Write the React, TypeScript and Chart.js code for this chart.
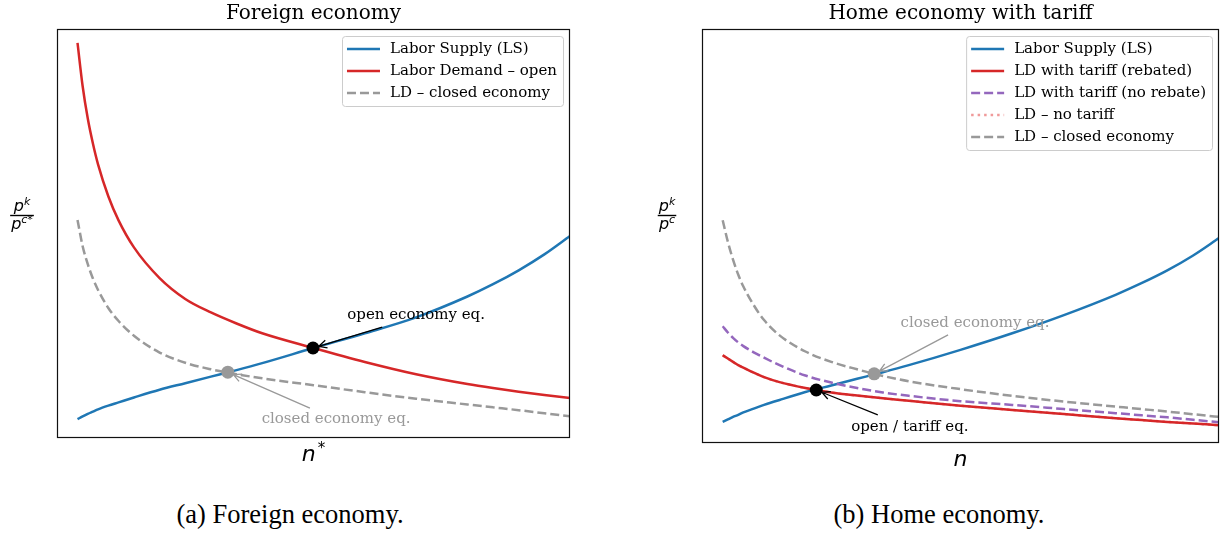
import React, { useEffect, useRef } from "react";
import { Chart, registerables } from "chart.js";

Chart.register(...registerables);

const BLUE = "#1f77b4";
const RED = "#d62728";
const PURPLE = "#9467bd";
const PINK = "#f09a9a";
const GRAY = "#999999";

// Labour quantity grid shared by every curve
const nGrid = [0.4, 0.5, 0.6, 0.7, 0.8, 1.0, 1.2, 1.5, 2.0, 2.5, 3.0, 3.5, 4.0, 5.0, 6.0, 7.0, 8.0, 8.5, 9.0, 9.5, 10.0];

// Foreign economy
const foreignLS = [0.46, 0.53, 0.59, 0.645, 0.7, 0.79, 0.87, 0.99, 1.18, 1.34, 1.5, 1.66, 1.83, 2.2, 2.56, 2.95, 3.46, 3.76, 4.1, 4.49, 4.94];
const foreignLDOpen = [9.66, 8.6, 7.81, 7.2, 6.69, 5.91, 5.32, 4.66, 3.91, 3.4, 3.07, 2.8, 2.56, 2.2, 1.86, 1.56, 1.32, 1.22, 1.13, 1.05, 0.98];
const foreignLDClosed = [5.33, 4.69, 4.25, 3.9, 3.62, 3.18, 2.86, 2.5, 2.09, 1.84, 1.68, 1.56, 1.46, 1.29, 1.12, 0.96, 0.82, 0.75, 0.68, 0.605, 0.53];
const foreignOpenEq = [4.99, 2.2];
const foreignClosedEq = [3.33, 1.61];

// Home economy with tariff
const homeLS = [0.51, 0.57, 0.63, 0.68, 0.74, 0.83, 0.92, 1.04, 1.23, 1.39, 1.55, 1.71, 1.88, 2.25, 2.65, 3.09, 3.58, 3.86, 4.17, 4.53, 4.95];
const homeLDRebated = [2.12, 2.04, 1.96, 1.88, 1.82, 1.7, 1.59, 1.47, 1.33, 1.22, 1.145, 1.08, 1.02, 0.9, 0.8, 0.7, 0.6, 0.555, 0.51, 0.47, 0.43];
const homeLDNoRebate = [2.82, 2.67, 2.54, 2.43, 2.34, 2.19, 2.06, 1.88, 1.63, 1.46, 1.33, 1.22, 1.14, 1.01, 0.92, 0.82, 0.72, 0.67, 0.62, 0.56, 0.5];
const homeLDNoTariff = [2.12, 2.04, 1.96, 1.88, 1.82, 1.7, 1.59, 1.47, 1.33, 1.22, 1.145, 1.08, 1.02, 0.9, 0.8, 0.7, 0.6, 0.555, 0.51, 0.47, 0.43];
const homeLDClosed = [5.38, 4.86, 4.43, 4.07, 3.78, 3.33, 2.97, 2.6, 2.21, 1.96, 1.78, 1.62, 1.49, 1.3, 1.14, 1.0, 0.88, 0.82, 0.76, 0.695, 0.63];
const homeOpenEq = [2.21, 1.28];
const homeClosedEq = [3.33, 1.67];

const SERIF = "'DejaVu Serif', serif";
const SANS = "'DejaVu Sans', sans-serif";

type Annot = { text: string; color: string; tx: number; ty: number; ax: number; ay: number; px: number; py: number };
type PanelSpec = {
  title: string;
  ySup: string;
  xSup: string;
  legend: number[];
  annots: Annot[];
};

function curve(label: string, ys: number[], color: string, dash: number[], order: number) {
  return {
    label,
    data: nGrid.map((x, i) => ({ x, y: ys[i] })),
    borderColor: color,
    backgroundColor: color,
    borderWidth: 2.5,
    borderDash: dash,
    borderCapStyle: "butt",
    showLine: true,
    pointRadius: 0,
    fill: false,
    cubicInterpolationMode: "monotone",
    order,
  };
}

function eqPoint(pt: number[], color: string) {
  return {
    label: "",
    data: [{ x: pt[0], y: pt[1] }],
    showLine: false,
    pointRadius: 6.5,
    pointBackgroundColor: color,
    pointBorderColor: color,
    pointBorderWidth: 0,
    order: 0,
  };
}

function drawArrow(ctx: CanvasRenderingContext2D, x1: number, y1: number, x2: number, y2: number, color: string, shrink: number) {
  const dx = x2 - x1;
  const dy = y2 - y1;
  const len = Math.hypot(dx, dy);
  const ux = dx / len;
  const uy = dy / len;
  const hx = x2 - ux * shrink;
  const hy = y2 - uy * shrink;
  ctx.strokeStyle = color;
  ctx.lineWidth = 1.3;
  ctx.setLineDash([]);
  ctx.beginPath();
  ctx.moveTo(x1, y1);
  ctx.lineTo(hx, hy);
  const hl = 8;
  const hw = 4;
  ctx.moveTo(hx - ux * hl - uy * hw, hy - uy * hl + ux * hw);
  ctx.lineTo(hx, hy);
  ctx.lineTo(hx - ux * hl + uy * hw, hy - uy * hl - ux * hw);
  ctx.stroke();
}

function makeDecor(spec: PanelSpec) {
  return {
    id: "panelDecor",
    afterDraw(chart: any) {
      const ctx: CanvasRenderingContext2D = chart.ctx;
      const { left, right, top, bottom } = chart.chartArea;
      const xs = chart.scales.x;
      const ys = chart.scales.y;
      ctx.save();

      // frame
      ctx.strokeStyle = "#111";
      ctx.lineWidth = 1.2;
      ctx.setLineDash([]);
      ctx.strokeRect(left + 0.5, top + 0.5, right - left - 1, bottom - top - 1);

      // title
      ctx.fillStyle = "#000";
      ctx.font = `20px ${SERIF}`;
      ctx.textAlign = "center";
      ctx.textBaseline = "alphabetic";
      ctx.fillText(spec.title, (left + right) / 2, top - 10);

      // x label: n with superscript
      ctx.font = `italic 22px ${SANS}`;
      const nW = ctx.measureText("n").width;
      ctx.font = `15px ${SANS}`;
      const sW = spec.xSup ? ctx.measureText(spec.xSup).width + 2 : 0;
      const xStart = (left + right) / 2 - (nW + sW) / 2;
      ctx.textAlign = "left";
      ctx.font = `italic 22px ${SANS}`;
      ctx.fillText("n", xStart, bottom + 23);
      if (spec.xSup) {
        ctx.font = `15px ${SANS}`;
        ctx.fillText(spec.xSup, xStart + nW + 2, bottom + 15);
      }

      // y label: p^k over p^c
      const cx = left - 35;
      const barY = 215.5;
      ctx.font = `italic 16px ${SANS}`;
      const pW = ctx.measureText("p").width;
      ctx.font = `italic 11px ${SANS}`;
      const kW = ctx.measureText("k").width;
      const cW = ctx.measureText(spec.ySup).width;
      const numW = pW + kW;
      const denW = pW + cW;
      const barW = Math.max(numW, denW) + 2;
      ctx.font = `italic 16px ${SANS}`;
      ctx.fillText("p", cx - numW / 2, barY - 5);
      ctx.fillText("p", cx - denW / 2, barY + 13);
      ctx.font = `italic 11px ${SANS}`;
      ctx.fillText("k", cx - numW / 2 + pW, barY - 11);
      ctx.fillText(spec.ySup, cx - denW / 2 + pW, barY + 7);
      ctx.fillRect(cx - barW / 2, barY - 0.7, barW, 1.4);

      // annotations
      for (const a of spec.annots) {
        const px = xs.getPixelForValue(a.px);
        const py = ys.getPixelForValue(a.py);
        const ax = xs.getPixelForValue(a.ax);
        const ay = ys.getPixelForValue(a.ay);
        drawArrow(ctx, ax, ay, px, py, a.color, 6);
        ctx.fillStyle = a.color;
        ctx.font = `15px ${SERIF}`;
        ctx.textAlign = "center";
        ctx.textBaseline = "middle";
        ctx.fillText(a.text, xs.getPixelForValue(a.tx), ys.getPixelForValue(a.ty));
      }

      // legend
      const ds = chart.data.datasets;
      ctx.font = `15px ${SERIF}`;
      ctx.textAlign = "left";
      ctx.textBaseline = "middle";
      let maxW = 0;
      for (const i of spec.legend) maxW = Math.max(maxW, ctx.measureText(ds[i].label).width);
      const boxW = 5 + 33 + 10 + maxW + 6;
      const boxH = 22 * spec.legend.length + 4;
      const bx = right - 7 - boxW;
      const by = top + 7;
      ctx.fillStyle = "rgba(255,255,255,0.8)";
      ctx.strokeStyle = "#cccccc";
      ctx.lineWidth = 1;
      ctx.beginPath();
      (ctx as any).roundRect(bx + 0.5, by + 0.5, boxW, boxH, 3);
      ctx.fill();
      ctx.stroke();
      spec.legend.forEach((i, row) => {
        const d = ds[i];
        const yy = by + 13 + row * 22;
        ctx.strokeStyle = d.borderColor;
        ctx.lineWidth = 2.5;
        ctx.setLineDash(d.borderDash || []);
        ctx.beginPath();
        ctx.moveTo(bx + 5, yy);
        ctx.lineTo(bx + 38, yy);
        ctx.stroke();
        ctx.setLineDash([]);
        ctx.fillStyle = "#000";
        ctx.fillText(d.label, bx + 48, yy);
      });

      ctx.restore();
    },
  };
}

function Panel(props: { datasets: any[]; spec: PanelSpec; padding: any; width: number; height: number }) {
  const ref = useRef<HTMLCanvasElement>(null);
  useEffect(() => {
    if (!ref.current) return;
    const chart = new Chart(ref.current, {
      type: "scatter",
      data: { datasets: props.datasets },
      options: {
        animation: false,
        responsive: false,
        maintainAspectRatio: false,
        events: [],
        layout: { padding: props.padding },
        scales: {
          x: { type: "linear", min: 0, max: 10, display: false },
          y: { type: "linear", min: 0, max: 10, display: false },
        },
        plugins: { legend: { display: false }, tooltip: { enabled: false }, title: { display: false } },
      },
      plugins: [makeDecor(props.spec)],
    } as any);
    return () => chart.destroy();
  }, []);
  return <canvas ref={ref} width={props.width} height={props.height} style={{ width: props.width, height: props.height, display: "block" }} />;
}

const DASH = [9, 4];
const DOT = [2.5, 4];

const foreignDatasets = [
  curve("Labor Supply (LS)", foreignLS, BLUE, [], 10),
  curve("Labor Demand \u2013 open", foreignLDOpen, RED, [], 9),
  curve("LD \u2013 closed economy", foreignLDClosed, GRAY, DASH, 8),
  eqPoint(foreignOpenEq, "#000"),
  eqPoint(foreignClosedEq, GRAY),
];

const foreignSpec: PanelSpec = {
  title: "Foreign economy",
  ySup: "c*",
  xSup: "*",
  legend: [0, 1, 2],
  annots: [
    { text: "open economy eq.", color: "#000", tx: 7.0, ty: 3.01, ax: 6.34, ay: 2.71, px: foreignOpenEq[0], py: foreignOpenEq[1] },
    { text: "closed economy eq.", color: GRAY, tx: 5.44, ty: 0.46, ax: 4.93, ay: 0.73, px: foreignClosedEq[0], py: foreignClosedEq[1] },
  ],
};

const homeDatasets = [
  curve("Labor Supply (LS)", homeLS, BLUE, [], 10),
  curve("LD with tariff (rebated)", homeLDRebated, RED, [], 9),
  curve("LD with tariff (no rebate)", homeLDNoRebate, PURPLE, DASH, 8),
  curve("LD \u2013 no tariff", homeLDNoTariff, PINK, DOT, 9.5),
  curve("LD \u2013 closed economy", homeLDClosed, GRAY, DASH, 7),
  eqPoint(homeOpenEq, "#000"),
  eqPoint(homeClosedEq, GRAY),
];

const homeSpec: PanelSpec = {
  title: "Home economy with tariff",
  ySup: "c",
  xSup: "",
  legend: [0, 1, 2, 3, 4],
  annots: [
    { text: "closed economy eq.", color: GRAY, tx: 5.28, ty: 2.9, ax: 4.76, ay: 2.61, px: homeClosedEq[0], py: homeClosedEq[1] },
    { text: "open / tariff eq.", color: "#000", tx: 4.02, ty: 0.39, ax: 3.4, ay: 0.68, px: homeOpenEq[0], py: homeOpenEq[1] },
  ],
};

const captionStyle: React.CSSProperties = {
  position: "absolute",
  top: 497,
  fontFamily: "'Liberation Serif', serif",
  fontSize: 26.5,
  lineHeight: "34px",
  color: "#000",
  transform: "translateX(-50%)",
  whiteSpace: "nowrap",
};

export default function App() {
  return (
    <div style={{ position: "fixed", left: 0, top: 0, width: 1228, height: 533, background: "#fff", overflow: "hidden" }}>
      <div style={{ position: "absolute", left: 0, top: 0 }}>
        <Panel datasets={foreignDatasets} spec={foreignSpec} width={600} height={480} padding={{ left: 57, top: 29, right: 30, bottom: 42 }} />
      </div>
      <div style={{ position: "absolute", left: 614, top: 0 }}>
        <Panel datasets={homeDatasets} spec={homeSpec} width={614} height={480} padding={{ left: 88, top: 29, right: 9, bottom: 37 }} />
      </div>
      <div style={{ ...captionStyle, left: 290 }}>(a) Foreign economy.</div>
      <div style={{ ...captionStyle, left: 939 }}>(b) Home economy.</div>
    </div>
  );
}
